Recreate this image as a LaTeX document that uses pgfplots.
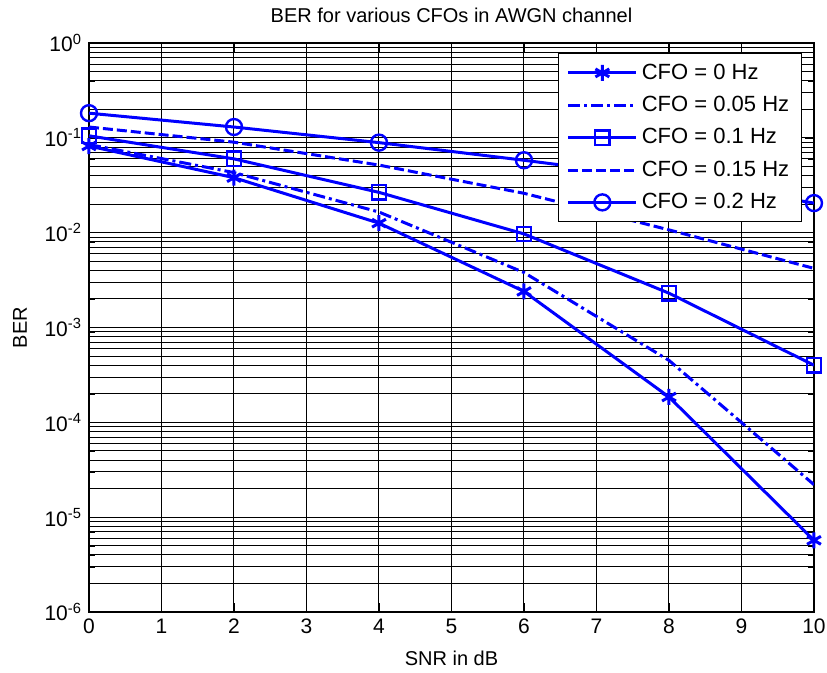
\documentclass[border=0pt]{standalone}
\usepackage{fontspec}
\setmainfont{Liberation Sans}
\usepackage{pgfplots}
\pgfplotsset{compat=1.18}
\definecolor{mblue}{RGB}{0,0,255}

\begin{document}
\begin{tikzpicture}
\begin{axis}[
  scale only axis, width=362.5pt, height=284.5pt,
  ymode=log, xmin=0, xmax=10, ymin=1e-6, ymax=1,
  xtick={0,1,...,10},
  ytick={1e-6,1e-5,1e-4,1e-3,1e-2,1e-1,1},
  yticklabels={10\textsuperscript{-6},10\textsuperscript{-5},10\textsuperscript{-4},10\textsuperscript{-3},10\textsuperscript{-2},10\textsuperscript{-1},10\textsuperscript{0}},
  grid=both,
  major grid style={black, line width=0.5pt},
  minor grid style={black, line width=0.5pt},
  axis line style={black, line width=0.6pt},
  tick align=inside, tick style={black},
  /pgf/number format/assume math mode=true,
  tick label style={font=\fontsize{10.5}{12}\selectfont},
  label style={font=\fontsize{10.5}{12}\selectfont},
  title style={font=\fontsize{10.75}{12}\selectfont},
  every axis title/.style={at={(axis description cs:0.5,1.0492)}, anchor=center},
  every axis x label/.style={at={(axis description cs:0.5,-0.0808)}, anchor=center},
  every axis y label/.style={at={(axis description cs:-0.0952,0.5)}, rotate=90, anchor=center},
  title={BER for various CFOs in AWGN channel},
  xlabel={SNR in dB}, ylabel={BER},
  legend style={at={(0.983,0.982)}, anchor=north east, draw=black, line width=0.5pt,
    font=\fontsize{11}{12}\selectfont, row sep=3pt, inner xsep=4pt, inner ysep=3pt},
  legend cell align=left,
  legend image code/.code={
    \draw[mark repeat=2, mark phase=2, #1] plot coordinates {(0pt,0pt) (17pt,0pt) (34pt,0pt)};
  },
  every axis plot/.append style={line width=1.5pt, mblue},
]
\addplot[mark=asterisk, mark size=4pt, mark options={solid, line width=1.5pt}]
  coordinates {(0,0.082) (2,0.038) (4,0.0126) (6,0.0024) (8,1.85e-4) (10,5.7e-6)};
\addlegendentry{CFO = 0 Hz}
\addplot[dash pattern=on 6pt off 2pt on 1.5pt off 2pt]
  coordinates {(0,0.085) (2,0.043) (4,0.0165) (6,0.0038) (8,4.5e-4) (10,2.2e-5)};
\addlegendentry{CFO = 0.05 Hz}
\addplot[mark=square, mark size=3.6pt, mark options={solid, line width=1.2pt}]
  coordinates {(0,0.105) (2,0.06) (4,0.0266) (6,0.0097) (8,0.0023) (10,4.0e-4)};
\addlegendentry{CFO = 0.1 Hz}
\addplot[dash pattern=on 5pt off 2pt]
  coordinates {(0,0.13) (2,0.09) (4,0.0516) (6,0.026) (8,0.0107) (10,0.0042)};
\addlegendentry{CFO = 0.15 Hz}
\addplot[mark=o, mark size=4pt, mark options={solid, line width=1.2pt}]
  coordinates {(0,0.182) (2,0.13) (4,0.089) (6,0.058) (8,0.037) (10,0.0205)};
\addlegendentry{CFO = 0.2 Hz}
\end{axis}
\pgfresetboundingbox
\path ([shift={(-44.5pt,-30.5pt)}]current axis.south west) rectangle ([shift={(6.5pt,21.5pt)}]current axis.north east);
\end{tikzpicture}
\end{document}
